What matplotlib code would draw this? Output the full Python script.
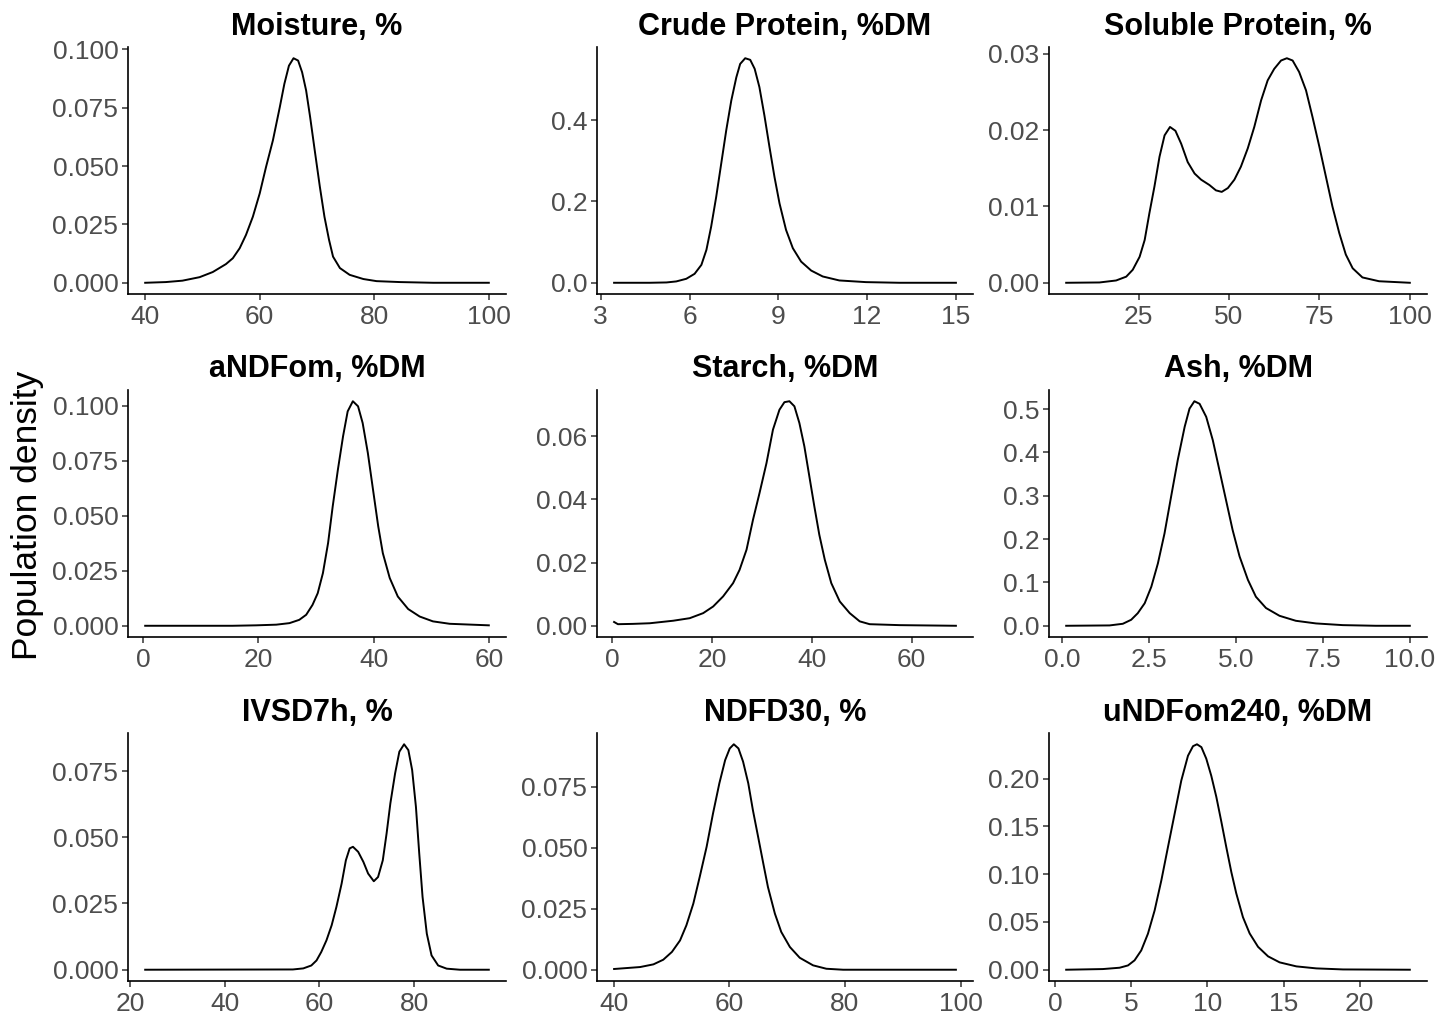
import matplotlib
matplotlib.use("Agg")
import matplotlib.pyplot as plt

plt.rcParams['font.family'] = ['Liberation Sans', 'DejaVu Sans']

# values (x = nutrient value, y = density)
moisture_x = [40, 43.6, 46.5, 49.5, 51.8, 54.1, 55.3, 56.5, 57.6, 58.8, 60.0, 61.1,
              62.3, 63.5, 64.3, 65.1, 65.9, 66.7, 67.4, 68.1, 68.8, 69.6, 70.5, 71.3,
              72.1, 72.8, 74.0, 75.7, 78.1, 80.4, 84.5, 90.3, 100]
moisture_y = [0.0, 0.0003, 0.0009, 0.0024, 0.0046, 0.008, 0.0105, 0.0148, 0.0205,
              0.0283, 0.0383, 0.0496, 0.061, 0.0752, 0.0852, 0.093, 0.0962, 0.0952,
              0.0902, 0.0824, 0.071, 0.0568, 0.0411, 0.0283, 0.0184, 0.0112, 0.0063,
              0.0034, 0.0016, 0.0007, 0.0003, 0.0, 0.0]

protein_x = [3.45, 4.65, 5.22, 5.55, 5.89, 6.17, 6.40, 6.57, 6.73, 6.90, 7.07, 7.24,
             7.41, 7.58, 7.71, 7.88, 8.05, 8.20, 8.36, 8.53, 8.70, 8.87, 9.04, 9.26,
             9.49, 9.77, 10.11, 10.50, 11.06, 11.96, 13.09, 15]
protein_y = [0.0, 0.0, 0.0008, 0.0033, 0.0098, 0.022, 0.044, 0.081, 0.138, 0.211,
             0.293, 0.375, 0.448, 0.505, 0.538, 0.552, 0.548, 0.526, 0.481, 0.411,
             0.334, 0.260, 0.195, 0.130, 0.085, 0.052, 0.030, 0.0155, 0.0057, 0.0016,
             0.0, 0.0]

soluble_x = [5.0, 14.2, 18.8, 21.6, 23.4, 25.3, 26.7, 28.0, 29.4, 30.8, 32.2, 33.7,
             35.2, 36.8, 38.6, 40.5, 42.3, 44.6, 46.4, 48.0, 49.7, 51.5, 53.3, 55.2,
             57.0, 58.9, 60.7, 62.5, 64.4, 66.0, 67.6, 69.4, 71.3, 73.1, 75.0, 76.8,
             78.6, 80.5, 82.3, 84.2, 86.9, 91.5, 100]
soluble_y = [0.0, 0.00004, 0.0003, 0.0008, 0.0017, 0.0034, 0.0056, 0.0091, 0.0126,
             0.0165, 0.0193, 0.0204, 0.0199, 0.0182, 0.0158, 0.0143, 0.0135, 0.0128,
             0.0121, 0.0119, 0.0124, 0.0135, 0.0152, 0.0176, 0.0204, 0.0239, 0.0265,
             0.028, 0.0291, 0.0294, 0.0291, 0.0276, 0.0252, 0.0217, 0.0178, 0.0139,
             0.010, 0.0065, 0.0037, 0.0019, 0.0007, 0.0002, 0.0]

andfom_x = [0.35, 15.5, 19.6, 23.1, 25.4, 27.1, 28.3, 29.4, 30.3, 31.2, 32.1, 32.9,
            33.8, 34.7, 35.5, 36.4, 37.3, 38.1, 39.0, 39.9, 40.8, 41.6, 42.8, 44.2,
            46.0, 48.0, 50.3, 53.2, 60]
andfom_y = [0.0, 0.0, 0.0002, 0.0005, 0.0012, 0.0027, 0.005, 0.0095, 0.0148, 0.0239,
            0.0376, 0.0542, 0.0709, 0.0861, 0.0974, 0.102, 0.0997, 0.0921, 0.0785,
            0.0618, 0.0452, 0.033, 0.0217, 0.0133, 0.0076, 0.0042, 0.002, 0.0009,
            0.0002]

starch_x = [0.33, 1.1, 4.1, 7.5, 12.2, 15.5, 18.2, 20.2, 22.2, 24.2, 25.5, 26.9, 28.2,
            29.5, 30.9, 32.2, 33.5, 34.5, 35.5, 36.5, 37.5, 38.5, 39.5, 40.5, 41.5,
            42.6, 43.9, 45.6, 47.6, 49.6, 51.6, 57.6, 68.9]
starch_y = [0.0012, 0.0005, 0.0006, 0.0008, 0.0016, 0.0024, 0.004, 0.0061, 0.0093,
            0.0135, 0.0177, 0.0241, 0.0336, 0.042, 0.0515, 0.0621, 0.0684, 0.0708,
            0.0711, 0.0695, 0.0642, 0.0568, 0.0473, 0.0378, 0.0288, 0.0209, 0.0135,
            0.0077, 0.004, 0.0014, 0.0005, 0.0002, 0.0]

ash_x = [0.11, 1.36, 1.74, 1.98, 2.17, 2.37, 2.56, 2.75, 2.94, 3.13, 3.32, 3.52, 3.66,
         3.80, 3.95, 4.14, 4.33, 4.52, 4.71, 4.90, 5.10, 5.34, 5.57, 5.86, 6.25, 6.72,
         7.30, 8.07, 9.02, 10.0]
ash_y = [0.0, 0.0008, 0.0046, 0.0138, 0.029, 0.052, 0.090, 0.144, 0.213, 0.298,
         0.382, 0.459, 0.501, 0.518, 0.512, 0.482, 0.428, 0.359, 0.290, 0.221, 0.160,
         0.106, 0.067, 0.041, 0.023, 0.0115, 0.0054, 0.0015, 0.0, 0.0]

ivsd_x = [23.2, 54.4, 56.6, 58.3, 59.4, 60.4, 61.5, 62.6, 63.6, 64.7, 65.6, 66.4, 67.1,
          68.2, 69.3, 70.3, 71.5, 72.4, 73.4, 74.2, 75.0, 76.0, 76.9, 77.9, 78.8,
          79.6, 80.4, 81.1, 81.8, 82.7, 83.7, 85.1, 86.9, 89.7, 95.8]
ivsd_y = [0.0, 0.0001, 0.0005, 0.0016, 0.0035, 0.0067, 0.0111, 0.0168, 0.0237, 0.0325,
          0.0413, 0.0458, 0.0464, 0.0445, 0.0407, 0.0363, 0.0334, 0.035, 0.0413,
          0.0514, 0.0628, 0.0741, 0.0823, 0.0851, 0.0829, 0.0754, 0.0615, 0.0439,
          0.0275, 0.0136, 0.0054, 0.0016, 0.0004, 0.0, 0.0]

ndfd_x = [40.1, 44.6, 46.9, 48.6, 50.1, 51.5, 52.6, 53.8, 54.9, 56.1, 57.2, 58.3, 59.3,
          60.1, 60.8, 61.6, 62.4, 63.3, 64.1, 65.0, 65.9, 66.7, 67.9, 69.0, 70.5,
          72.2, 74.5, 76.8, 79.7, 99.2]
ndfd_y = [0.0003, 0.0011, 0.0022, 0.0041, 0.0073, 0.012, 0.0182, 0.0271, 0.038,
          0.0504, 0.064, 0.0764, 0.0859, 0.0907, 0.0924, 0.0907, 0.0853, 0.0764,
          0.0654, 0.0545, 0.0435, 0.0339, 0.023, 0.0155, 0.0093, 0.0049, 0.0018,
          0.0004, 0.0, 0.0]

undf_x = [0.72, 3.13, 4.23, 4.78, 5.21, 5.65, 6.09, 6.53, 6.97, 7.40, 7.84, 8.28, 8.72,
          9.05, 9.31, 9.60, 9.92, 10.25, 10.58, 10.91, 11.24, 11.57, 11.89, 12.33,
          12.77, 13.32, 13.98, 14.74, 15.84, 17.15, 18.9, 23.29]
undf_y = [0.0, 0.0007, 0.0021, 0.0045, 0.0098, 0.0202, 0.0377, 0.0621, 0.0935, 0.128,
          0.163, 0.198, 0.224, 0.234, 0.236, 0.233, 0.221, 0.203, 0.181, 0.155, 0.128,
          0.102, 0.080, 0.055, 0.038, 0.024, 0.014, 0.0077, 0.0035, 0.0014, 0.0003,
          0.0]

titles = ["Moisture, %", "Crude Protein, %DM", "Soluble Protein, %",
          "aNDFom, %DM", "Starch, %DM", "Ash, %DM",
          "IVSD7h, %", "NDFD30, %", "uNDFom240, %DM"]

xticks = [[40, 60, 80, 100], [3, 6, 9, 12, 15], [25, 50, 75, 100],
          [0, 20, 40, 60], [0, 20, 40, 60], [0, 2.5, 5, 7.5, 10],
          [20, 40, 60, 80], [40, 60, 80, 100], [0, 5, 10, 15, 20]]
xticklabels = [["40", "60", "80", "100"], ["3", "6", "9", "12", "15"],
               ["25", "50", "75", "100"], ["0", "20", "40", "60"],
               ["0", "20", "40", "60"], ["0.0", "2.5", "5.0", "7.5", "10.0"],
               ["20", "40", "60", "80"], ["40", "60", "80", "100"],
               ["0", "5", "10", "15", "20"]]
yticks = [[0, 0.025, 0.05, 0.075, 0.1], [0, 0.2, 0.4], [0, 0.01, 0.02, 0.03],
          [0, 0.025, 0.05, 0.075, 0.1], [0, 0.02, 0.04, 0.06],
          [0, 0.1, 0.2, 0.3, 0.4, 0.5], [0, 0.025, 0.05, 0.075],
          [0, 0.025, 0.05, 0.075], [0, 0.05, 0.1, 0.15, 0.2]]
yticklabels = [["0.000", "0.025", "0.050", "0.075", "0.100"], ["0.0", "0.2", "0.4"],
               ["0.00", "0.01", "0.02", "0.03"],
               ["0.000", "0.025", "0.050", "0.075", "0.100"],
               ["0.00", "0.02", "0.04", "0.06"],
               ["0.0", "0.1", "0.2", "0.3", "0.4", "0.5"],
               ["0.000", "0.025", "0.050", "0.075"],
               ["0.000", "0.025", "0.050", "0.075"],
               ["0.00", "0.05", "0.10", "0.15", "0.20"]]

series = [(moisture_x, moisture_y), (protein_x, protein_y), (soluble_x, soluble_y),
          (andfom_x, andfom_y), (starch_x, starch_y), (ash_x, ash_y),
          (ivsd_x, ivsd_y), (ndfd_x, ndfd_y), (undf_x, undf_y)]

W, H = 1455, 1019
col_left = [128, 597, 1049]
col_right = [506, 973, 1427]
row_top = [47, 390, 733]
row_bottom = [294, 637, 981]

fig = plt.figure(figsize=(W / 100, H / 100), dpi=100)
fig.patch.set_facecolor("white")

for i, (xs, ys) in enumerate(series):
    r, c = divmod(i, 3)
    l, rt = col_left[c], col_right[c]
    t, b = row_top[r], row_bottom[r]
    ax = fig.add_axes([l / W, 1 - b / H, (rt - l) / W, (b - t) / H])
    ax.plot(xs, ys, color="black", lw=1.4, solid_joinstyle="round")
    ax.margins(x=0.05, y=0.05)
    ax.set_xticks(xticks[i])
    ax.set_xticklabels(xticklabels[i])
    ax.set_yticks(yticks[i])
    ax.set_yticklabels(yticklabels[i])
    for side in ["top", "right"]:
        ax.spines[side].set_visible(False)
    for side in ["left", "bottom"]:
        ax.spines[side].set_linewidth(1.2)
        ax.spines[side].set_color("black")
    ax.tick_params(axis="both", length=4, width=1.1, color="#333333",
                   labelsize=19, labelcolor="#4D4D4D")
    ax.tick_params(axis="x", pad=4)
    ax.tick_params(axis="y", pad=3)
    ax.set_title(titles[i], fontsize=22, fontweight="bold", pad=9)

fig.text(28 / W, 1 - 515 / H, "Population density", rotation=90,
         ha="center", va="center", fontsize=25.5)

fig.savefig("out.png", dpi=100, facecolor="white")
